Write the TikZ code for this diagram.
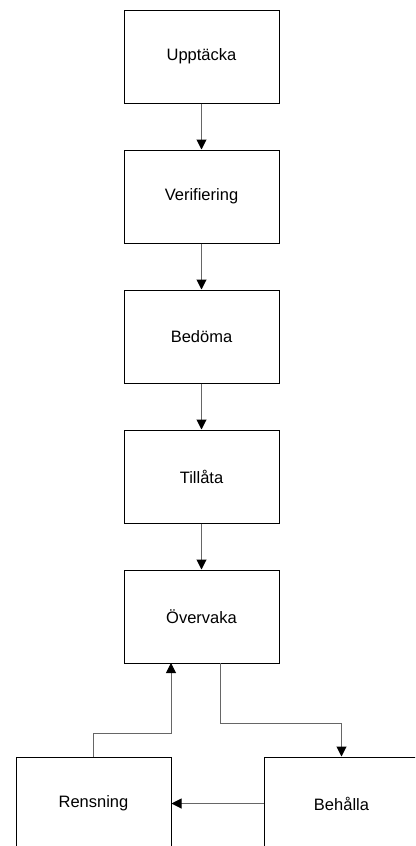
\documentclass[tikz,border=0pt]{standalone}
\usepackage{fontspec}
\setmainfont{Liberation Sans}
\usetikzlibrary{arrows.meta}
\begin{document}
\begin{tikzpicture}[x=1pt,y=-1pt,
  stepbox/.style={draw=black,line width=1pt,minimum width=155pt,minimum height=93pt,inner sep=0pt,font=\fontsize{16.5}{19}\selectfont},
  conn/.style={draw=black!60,line width=1pt,-{Triangle[length=10pt,width=10pt,fill=black,color=black]}}]
\useasboundingbox (0,0) rectangle (415,846);
\clip (0,0) rectangle (415,846);
\node[stepbox] (a) at (201.5,56.5) {Upptäcka};
\node[stepbox] (b) at (201.5,196.5) {Verifiering};
\node[stepbox] (c) at (201.5,336.5) {Bedöma};
\node[stepbox] (d) at (201.5,476.5) {Tillåta};
\node[stepbox] (e) at (201.5,616.5) {Övervaka};
\node[stepbox] (r) at (93.5,803.5) {Rensning};
\node[stepbox] (k) at (341.5,803.5) {Behålla};
\draw[conn] (a) -- (b);
\draw[conn] (b) -- (c);
\draw[conn] (c) -- (d);
\draw[conn] (d) -- (e);
\draw[conn] (r.north) |- (171,733) -- (171,663);
\draw[conn] (220,663) |- (341.5,723) -- (k.north);
\draw[conn] (k.west) -- (r.east);
\end{tikzpicture}
\end{document}
